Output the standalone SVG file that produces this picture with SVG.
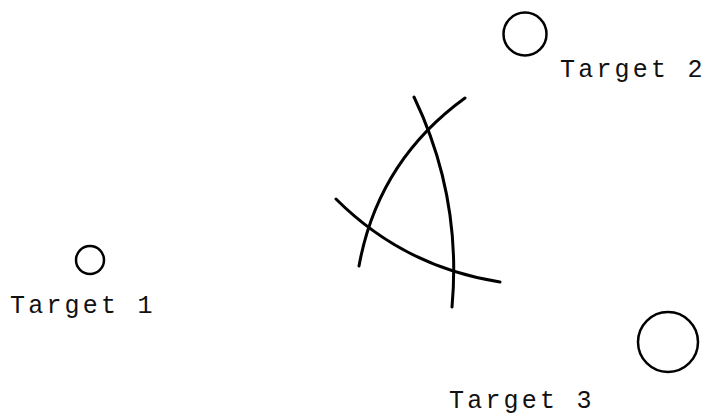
<svg xmlns="http://www.w3.org/2000/svg" width="711" height="416" viewBox="0 0 711 416">
<style>
.t{fill:none;stroke:#000;stroke-width:2.5}
.a{fill:none;stroke:#000;stroke-width:3;stroke-linecap:round}
.l{font-family:"Liberation Mono","Courier New",monospace;font-size:25px;letter-spacing:3.2px;fill:#111}
</style>
<rect width="711" height="416" fill="#fff"/>
<g id="target1">
<circle class="t" cx="90" cy="260" r="14"/>
<text class="l" x="10" y="313">Target 1</text>
</g>
<g id="target2">
<circle class="t" cx="525" cy="34" r="21.5"/>
<text class="l" x="560" y="77">Target 2</text>
</g>
<g id="target3">
<circle class="t" cx="668" cy="342" r="30"/>
<text class="l" x="449" y="408">Target 3</text>
</g>
<g id="arcs">
<path class="a" d="M465,98 Q378,161 359,266"/>
<path class="a" d="M414,97 Q462,197 452,307"/>
<path class="a" d="M336,199 Q404,267 500,282"/>
</g>
</svg>
